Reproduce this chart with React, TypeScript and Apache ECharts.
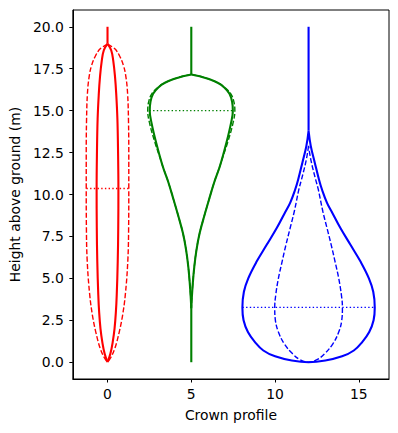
import React, { useEffect, useRef } from "react";
import * as echarts from "echarts";

// Axis ticks
const xTicks = [0, 5, 10, 15];
const yTicks = [0, 2.5, 5, 7.5, 10, 12.5, 15, 17.5, 20];

// Red tree (centre x = 0)
const redCenter = 0;
const redStemZ = [20, 19];
const redSolidZ = [19, 18.6, 18.0, 17.0, 16.0, 14.5, 12.5, 10.3, 8.0, 6.0, 4.0, 3.0, 2.0, 1.2, 0.5, 0];
const redSolidR = [0, 0.22, 0.34, 0.45, 0.52, 0.59, 0.63, 0.65, 0.64, 0.61, 0.55, 0.5, 0.42, 0.31, 0.17, 0];
const redDashZ = [18.95, 18.7, 18.3, 17.7, 17.0, 16.0, 14.5, 12.5, 10.4, 8.0, 6.0, 4.0, 2.8, 1.8, 0.8, 0.25, 0];
const redDashR = [0, 0.42, 0.7, 0.95, 1.1, 1.2, 1.25, 1.27, 1.27, 1.26, 1.21, 1.06, 0.9, 0.7, 0.43, 0.18, 0];
const redDotZ = 10.36;
const redDotX = [-1.26, 1.28];

// Green tree (centre x = 5)
const greenCenter = 5;
const greenStemTopZ = [20, 17.16];
const greenStemBottomZ = [3.2, 0];
const greenSolidZ = [17.16, 17.05, 16.88, 16.65, 16.4, 16.0, 15.5, 15.0, 14.3, 13.1, 11.7, 10.7, 9.7, 8.7, 7.7, 6.7, 5.7, 4.7, 3.8, 3.2];
const greenSolidR = [0, 0.5, 1.05, 1.6, 1.95, 2.28, 2.44, 2.48, 2.38, 2.1, 1.71, 1.36, 1.06, 0.77, 0.5, 0.31, 0.18, 0.09, 0.03, 0];
const greenDashZ = [17.16, 17.05, 16.88, 16.65, 16.4, 16.0, 15.5, 15.0, 14.3, 13.1, 12.0, 11.7, 10.7, 9.7, 8.7, 7.7, 6.7, 5.7, 4.7, 3.8, 3.2];
const greenDashR = [0, 0.5, 1.05, 1.6, 1.97, 2.36, 2.55, 2.6, 2.5, 2.17, 1.8, 1.71, 1.36, 1.06, 0.77, 0.5, 0.31, 0.18, 0.09, 0.03, 0];
const greenDotZ = 15;
const greenDotX = [2.5, 7.54];

// Blue tree (centre x = 12)
const blueCenter = 12;
const blueStemZ = [20, 13.8];
const blueSolidZ = [13.8, 12.9, 11.9, 10.9, 10.3, 9.5, 8.9, 8.0, 7.0, 6.0, 5.0, 4.2, 3.27, 2.5, 1.8, 1.2, 0.7, 0.35, 0.1, 0];
const blueSolidR = [0, 0.13, 0.37, 0.62, 0.8, 1.1, 1.42, 1.9, 2.5, 3.1, 3.6, 3.86, 3.95, 3.88, 3.62, 3.2, 2.7, 2.0, 1.0, 0];
const blueDashZ = [12.9, 12.0, 10.9, 10.3, 9.0, 8.0, 7.0, 6.0, 5.0, 4.0, 3.27, 2.5, 1.8, 1.1, 0.5, 0.15, 0];
const blueDashR = [0, 0.15, 0.42, 0.58, 0.85, 1.1, 1.35, 1.58, 1.8, 1.96, 2.02, 1.98, 1.8, 1.45, 0.95, 0.5, 0];
const blueDotZ = 3.27;
const blueDotX = [8.05, 15.9];

const RED = "#ff0000";
const GREEN = "#008000";
const BLUE = "#0000ff";
const DASH = [5.1, 2.2];
const DOT = [1.4, 2.3];

const half = (c: number, z: number[], r: number[], s: number) =>
  z.map((zi, i) => [c + s * r[i], zi]);
const loop = (c: number, z: number[], r: number[]) => {
  const left = half(c, z, r, -1);
  const right = half(c, z, r, 1).reverse();
  return [...left, ...right.slice(1)];
};
const stem = (c: number, z: number[]) => z.map((zi) => [c, zi]);
const hline = (xs: number[], z: number) => xs.map((x) => [x, z]);

const line = (data: number[][], color: string, width: number, type: any, smooth: number | boolean) => ({
  type: "line",
  data,
  showSymbol: false,
  symbol: "none",
  smooth,
  lineStyle: { color, width, type },
  silent: true,
});

export default function App() {
  const ref = useRef<HTMLDivElement>(null);
  useEffect(() => {
    if (!ref.current) return;
    const chart = echarts.init(ref.current, null, { renderer: "svg" });
    const SW = 2.1;
    const DW = 1.4;
    const series = [
      // red
      line(stem(redCenter, redStemZ), RED, SW, "solid", false),
      line(half(redCenter, redSolidZ, redSolidR, -1), RED, SW, "solid", 0.4),
      line(half(redCenter, redSolidZ, redSolidR, 1), RED, SW, "solid", 0.4),
      line(half(redCenter, redDashZ, redDashR, -1), RED, DW, DASH, 0.4),
      line(half(redCenter, redDashZ, redDashR, 1), RED, DW, DASH, 0.4),
      line(hline(redDotX, redDotZ), RED, DW, DOT, false),
      // green
      line(stem(greenCenter, greenStemTopZ), GREEN, SW, "solid", false),
      line(stem(greenCenter, greenStemBottomZ), GREEN, SW, "solid", false),
      line(half(greenCenter, greenDashZ, greenDashR, -1), GREEN, DW, DASH, 0.4),
      line(half(greenCenter, greenDashZ, greenDashR, 1), GREEN, DW, DASH, 0.4),
      line(half(greenCenter, greenSolidZ, greenSolidR, -1), GREEN, SW, "solid", 0.4),
      line(half(greenCenter, greenSolidZ, greenSolidR, 1), GREEN, SW, "solid", 0.4),
      line(hline(greenDotX, greenDotZ), GREEN, DW, DOT, false),
      // blue
      line(stem(blueCenter, blueStemZ), BLUE, SW, "solid", false),
      line(loop(blueCenter, blueSolidZ, blueSolidR), BLUE, SW, "solid", 0.4),
      line(loop(blueCenter, blueDashZ, blueDashR), BLUE, DW, DASH, 0.4),
      line(hline(blueDotX, blueDotZ), BLUE, DW, DOT, false),
    ];
    const axisCommon = {
      type: "value",
      nameLocation: "middle",
      nameTextStyle: { fontSize: 13.9, color: "#000", fontFamily: "DejaVu Sans" },
      splitLine: { show: false },
    };
    chart.setOption({
      animation: false,
      textStyle: { fontFamily: "DejaVu Sans" },
      grid: {
        left: 71,
        top: 10,
        right: 9,
        bottom: 54,
        show: true,
        borderColor: "#000",
        borderWidth: 1,
        backgroundColor: "transparent",
      },
      xAxis: {
        ...axisCommon,
        min: -2.07,
        max: 16.8,
        name: "Crown profile",
        nameGap: 29,
        axisLine: { onZero: false, lineStyle: { color: "#000", width: 1 } },
        axisTick: { show: true, length: 3.5, customValues: xTicks, lineStyle: { color: "#000", width: 1 } },
        axisLabel: {
          customValues: xTicks,
          fontSize: 13.9,
          color: "#000",
          margin: 8,
          fontFamily: "DejaVu Sans",
          formatter: (v: number) => String(v),
        },
      },
      yAxis: {
        ...axisCommon,
        min: -1,
        max: 21,
        name: "Height above ground (m)",
        nameGap: 45,
        axisLine: { onZero: false, lineStyle: { color: "#000", width: 1 } },
        axisTick: { show: true, length: 3.5, customValues: yTicks, lineStyle: { color: "#000", width: 1 } },
        axisLabel: {
          customValues: yTicks,
          fontSize: 13.9,
          color: "#000",
          margin: 9,
          fontFamily: "DejaVu Sans",
          formatter: (v: number) => v.toFixed(1),
        },
      },
      series,
    });
    return () => chart.dispose();
  }, []);
  return (
    <div
      ref={ref}
      style={{ position: "fixed", left: 0, top: 0, width: 398, height: 433, background: "#fff" }}
    />
  );
}
